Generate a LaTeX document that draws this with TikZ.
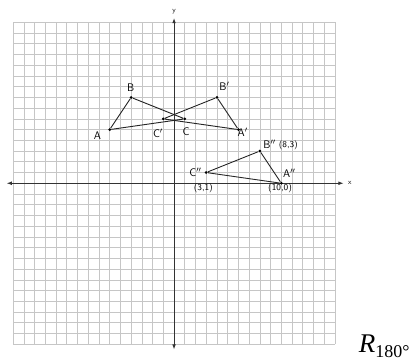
\documentclass[tikz,border=0pt]{standalone}
\usepackage{fontspec}
\newfontfamily\timesfont{Liberation Serif}
\usetikzlibrary{arrows.meta, positioning}
\tikzset{
  gridline/.style={draw=gray!45, line width=0.6pt},
  axis/.style={
    {Latex[length=1.8mm, width=1.3mm]}-{Latex[length=1.8mm, width=1.3mm]},
    line width=0.9pt, draw=black!80
  },
  vertex/.style={circle, fill=black, inner sep=0pt, minimum size=3pt},
  side/.style={line width=0.9pt, draw=black!85},
  hand/.style={font=\sffamily\fontsize{11}{12}\selectfont, inner sep=0pt},
  coordlabel/.style={font=\sffamily\fontsize{9}{10}\selectfont, inner sep=0pt}
}

\begin{document}
\begin{tikzpicture}[x=10.73pt, y=10.73pt]

\useasboundingbox (-16.22,-16.65) rectangle (22.46,17.08);

%------------------------------------------------------
% GRID AND AXES
%------------------------------------------------------

\draw[gridline, step=1] (-15,-15) grid (15,15);

\coordinate (xleft) at (-15.6,0);
\coordinate (xright) at (15.8,0);
\coordinate (ytop) at (0,15.4);
\coordinate (ybottom) at (0,-15.5);

\draw[axis] (xleft) -- (xright);
\draw[axis] (ybottom) -- (ytop);

\node[font=\sffamily\scriptsize, right=1pt of xright] (xname) {x};
\node[font=\sffamily\scriptsize, above=1pt of ytop] (yname) {y};

%------------------------------------------------------
% VERTICES
%------------------------------------------------------

% triangle ABC
\node[vertex] (A) at (-6,5) {};
\node[vertex] (B) at (-4,8) {};
\node[vertex] (C) at (1,6) {};

% triangle A'B'C'
\node[vertex] (A1) at (6,5) {};
\node[vertex] (B1) at (4,8) {};
\node[vertex] (C1) at (-1,6) {};

% triangle A''B''C''
\node[vertex] (A2) at (10,0) {};
\node[vertex] (B2) at (8,3) {};
\node[vertex] (C2) at (3,1) {};

%------------------------------------------------------
% LABELS
%------------------------------------------------------

\node[hand] (labA) at (-7.15,4.41) {A};
\node[hand] (labB) at (-4.04,8.95) {B};
\node[hand] (labC) at (1.12,4.81) {C};
\node[hand] (labA1) at (6.4,4.78) {A$'$};
\node[hand] (labB1) at (4.7,9.07) {B$'$};
\node[hand] (labC1) at (-1.5,4.66) {C$'$};
\node[hand] (labA2) at (10.75,0.93) {A$''$};
\node[hand] (labB2) at (8.9,3.66) {B$''$};
\node[hand] (labC2) at (2.0,0.99) {C$''$};

\node[coordlabel] (coordB2) at (10.65,3.5) {(8,3)};
\node[coordlabel] (coordC2) at (2.73,-0.47) {(3,1)};
\node[coordlabel] (coordA2) at (9.88,-0.47) {(10,0)};

\node[font=\timesfont\fontsize{27}{30}\selectfont, anchor=base west] (rot) at (16.9,-15.75)
  {\itshape R\raisebox{-5pt}{\fontsize{18}{20}\selectfont\upshape 180°}};

%------------------------------------------------------
% SIDES
%------------------------------------------------------

\draw[side] (A) -- (B) -- (C) -- (A);
\draw[side] (A1) -- (B1) -- (C1) -- (A1);
\draw[side] (A2) -- (B2) -- (C2) -- (A2);

\end{tikzpicture}
\end{document}
